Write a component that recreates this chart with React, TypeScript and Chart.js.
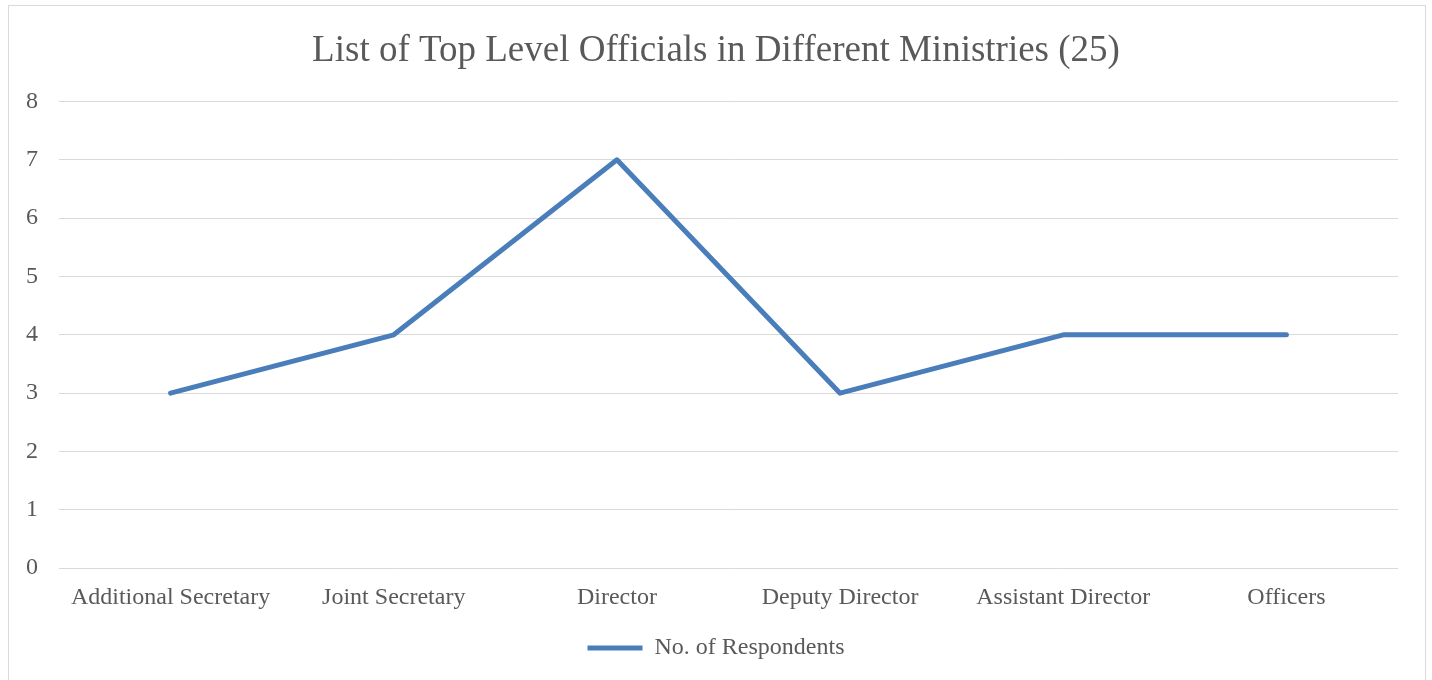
import React, { useEffect, useRef } from "react";
import { Chart, registerables } from "chart.js";

Chart.register(...registerables);

const categories = [
  "Additional Secretary",
  "Joint Secretary",
  "Director",
  "Deputy Director",
  "Assistant Director",
  "Officers",
];
const respondents = [3, 4, 7, 3, 4, 4];
const seriesLabel = "No. of Respondents";
const titleText = "List of Top Level Officials in Different Ministries (25)";

const FONT = "'Liberation Serif', 'Times New Roman', serif";
const TEXT = "#595959";
const LINE = "#4a7ebb";

export default function App() {
  const ref = useRef<HTMLCanvasElement | null>(null);

  useEffect(() => {
    if (!ref.current) return;
    const chart = new Chart(ref.current, {
      type: "line",
      data: {
        labels: categories,
        datasets: [
          {
            label: seriesLabel,
            data: respondents,
            borderColor: LINE,
            backgroundColor: LINE,
            borderWidth: 5,
            tension: 0,
            pointRadius: 0,
            pointHoverRadius: 0,
            borderCapStyle: "round",
            borderJoinStyle: "round",
            fill: false,
          },
        ],
      },
      options: {
        responsive: false,
        animation: false,
        layout: { padding: { left: 0, right: 0, top: 0, bottom: 10 } },
        plugins: {
          title: {
            display: true,
            text: titleText,
            color: TEXT,
            font: { family: FONT, size: 37, weight: "normal" },
            padding: { top: 29, bottom: 28 },
          },
          legend: {
            display: true,
            position: "bottom",
            labels: {
              color: TEXT,
              font: { family: FONT, size: 24 },
              boxWidth: 55,
              boxHeight: 5,
              padding: 9,
              generateLabels: (c: any) =>
                Chart.defaults.plugins.legend.labels
                  .generateLabels(c)
                  .map((it: any) => ({
                    ...it,
                    lineWidth: 0,
                    strokeStyle: "rgba(0,0,0,0)",
                    fillStyle: LINE,
                  })),
            },
          },
          tooltip: { enabled: false },
        },
        scales: {
          x: {
            offset: true,
            grid: { display: false, drawTicks: false },
            border: { display: false },
            ticks: {
              color: TEXT,
              font: { family: FONT, size: 24 },
              padding: 15,
              maxRotation: 0,
              autoSkip: false,
            },
          },
          y: {
            min: 0,
            max: 8,
            afterFit: (scale: any) => {
              scale.width = 59;
            },
            grid: { color: "#d9d9d9", lineWidth: 1, drawTicks: false },
            border: { display: false },
            ticks: {
              stepSize: 1,
              color: TEXT,
              font: { family: FONT, size: 24 },
              padding: 21,
            },
          },
          yRight: {
            type: "linear",
            position: "right",
            display: true,
            grid: { display: false, drawTicks: false },
            border: { display: false },
            ticks: { display: false },
            afterFit: (scale: any) => {
              scale.width = 34;
            },
          },
        },
      },
    });
    return () => chart.destroy();
  }, []);

  return (
    <div>
      <div
        style={{
          position: "fixed",
          left: 8,
          top: 5,
          width: 1418,
          height: 700,
          boxSizing: "border-box",
          border: "1px solid #d9d9d9",
          background: "#fff",
        }}
      />
      <canvas
        ref={ref}
        width={1432}
        height={680}
        style={{ position: "fixed", left: 0, top: 0, width: 1432, height: 680 }}
      />
    </div>
  );
}
